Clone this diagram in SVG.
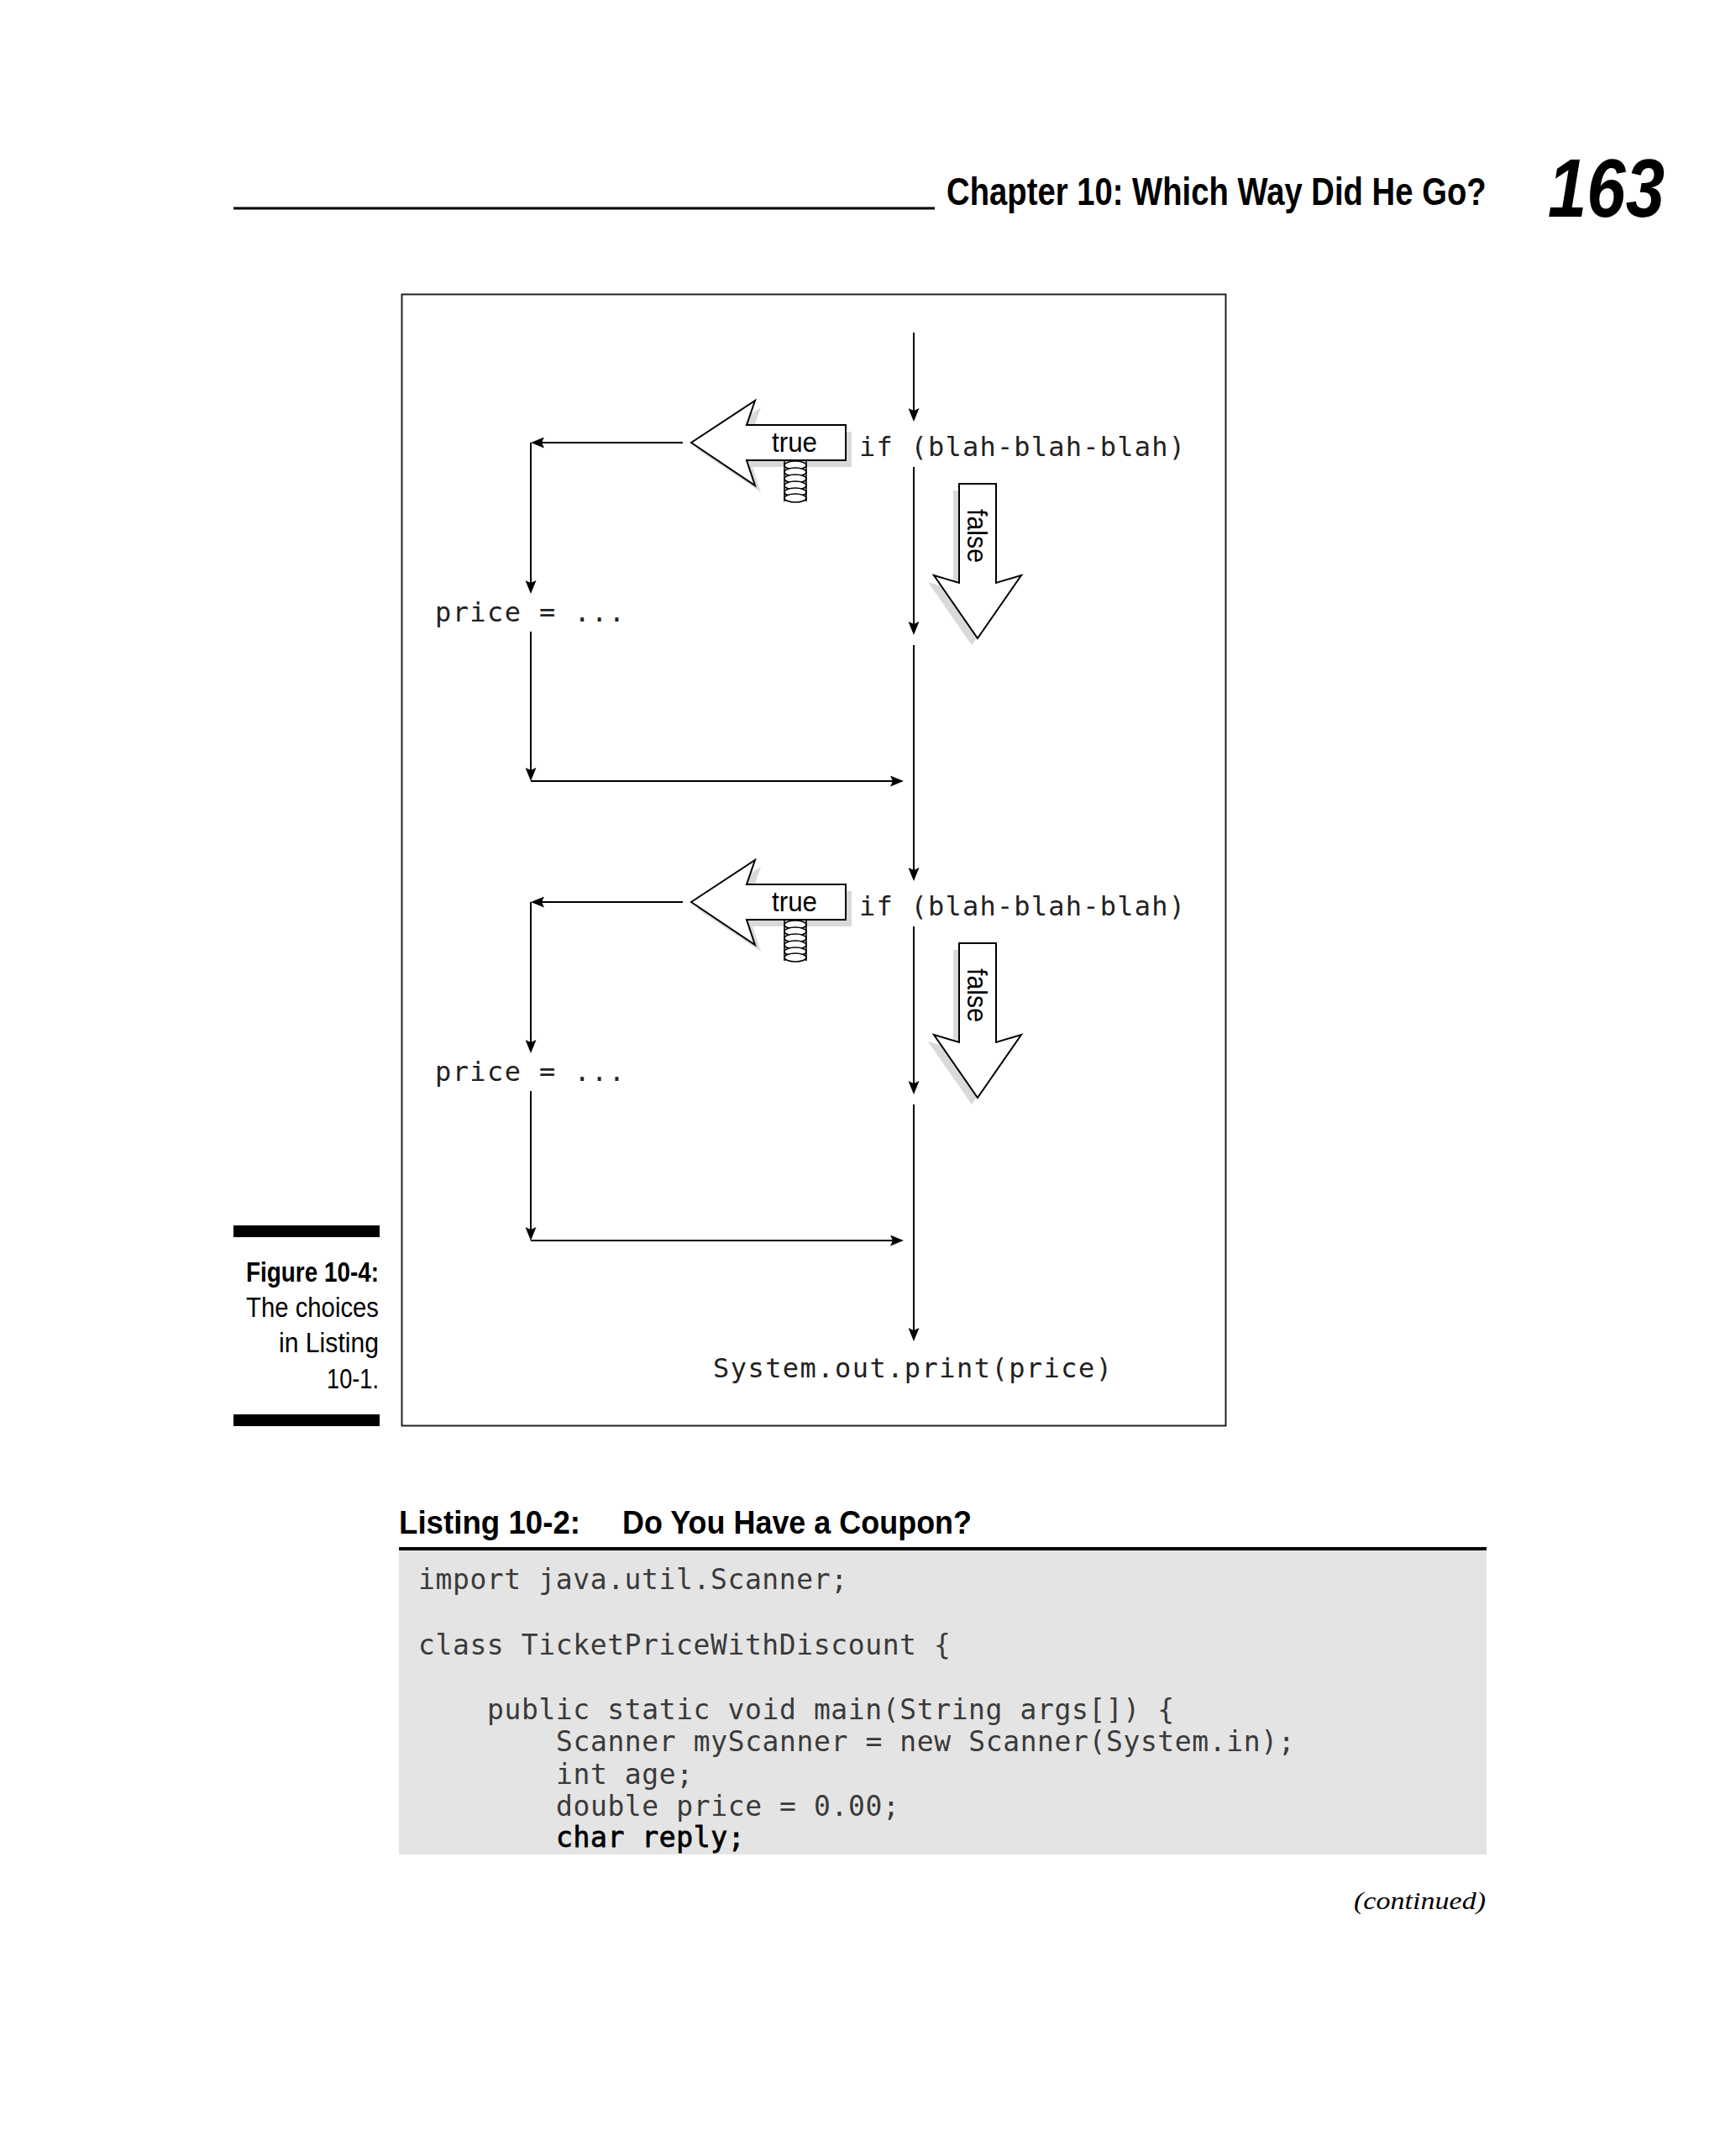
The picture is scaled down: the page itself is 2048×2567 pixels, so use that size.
<svg xmlns="http://www.w3.org/2000/svg" width="2048" height="2567" viewBox="0 0 2048 2567">
<style>
.mono{font-family:"DejaVu Sans Mono","Liberation Mono",monospace;font-size:32px;fill:#222}
.code{font-family:"DejaVu Sans Mono","Liberation Mono",monospace;font-size:33px;letter-spacing:0.6px;fill:#3a3a3a}
.lbl{font-family:"Liberation Sans","DejaVu Sans",sans-serif;font-size:33px;fill:#000}
.cap{font-family:"Liberation Sans","DejaVu Sans",sans-serif;font-size:33px;fill:#000}
.conn{stroke:#000;stroke-width:2;fill:none}
.big{fill:#fff;stroke:#000;stroke-width:2;stroke-linejoin:miter}
.shadow{fill:#d9d9d9;stroke:none}
.spr{fill:#fff;stroke:#000;stroke-width:1.6}
</style>
<defs>
<marker id="ah" markerUnits="userSpaceOnUse" viewBox="0 0 16 13" markerWidth="16" markerHeight="13" refX="14" refY="6.5" orient="auto">
<path d="M0,0 L16,6.5 L0,13 L3,6.5 z" fill="#000"/>
</marker>
<g id="trueArrow">
<polygon class="shadow" points="830,535 906,485 896,514 1014,514 1014,556 896,556 906,586"/>
<g>
<line class="spr" x1="934" y1="548" x2="934" y2="597"/>
<line class="spr" x1="960" y1="548" x2="960" y2="597"/>
<ellipse class="spr" cx="947" cy="554" rx="13" ry="5"/>
<ellipse class="spr" cx="947" cy="562" rx="13" ry="5"/>
<ellipse class="spr" cx="947" cy="570" rx="13" ry="5"/>
<ellipse class="spr" cx="947" cy="578" rx="13" ry="5"/>
<ellipse class="spr" cx="947" cy="586" rx="13" ry="5"/>
<ellipse class="spr" cx="947" cy="593" rx="13" ry="5"/>
</g>
<polygon class="big" points="823,527 899,477 889,506 1007,506 1007,548 889,548 899,578"/>
<text class="lbl" x="919" y="538" textLength="54" lengthAdjust="spacingAndGlyphs">true</text>
</g>
<g id="falseArrow">
<polygon class="shadow" points="1135,584 1179,584 1179,702 1209,693 1157,768 1105,693 1135,702"/>
<polygon class="big" points="1142,576 1186,576 1186,694 1216,685 1164,760 1112,685 1142,694"/>
<text class="lbl" transform="translate(1152,606) rotate(90)" textLength="64" lengthAdjust="spacingAndGlyphs">false</text>
</g>
</defs>

<!-- page header -->
<g id="header">
<rect x="278" y="246.5" width="835" height="3" fill="#000"/>
<text transform="translate(1127,244) scale(0.832,1)" font-family="'Liberation Sans','DejaVu Sans',sans-serif" font-weight="bold" font-size="46">Chapter 10: Which Way Did He Go?</text>
<text transform="translate(1843,258) scale(0.85,1)" font-family="'Liberation Sans','DejaVu Sans',sans-serif" font-weight="bold" font-style="italic" font-size="98">163</text>
</g>

<!-- figure frame -->
<rect id="frame" x="478.5" y="350.5" width="981" height="1347" fill="none" stroke="#222" stroke-width="2"/>

<!-- connectors -->
<g id="connectors">
<path class="conn" d="M1088,396 V500" marker-end="url(#ah)"/>
<path class="conn" d="M1088,556 V754" marker-end="url(#ah)"/>
<path class="conn" d="M1088,768 V1047" marker-end="url(#ah)"/>
<path class="conn" d="M1088,1103 V1301" marker-end="url(#ah)"/>
<path class="conn" d="M1088,1315 V1595" marker-end="url(#ah)"/>

<path class="conn" d="M813,527 H634" marker-end="url(#ah)"/>
<path class="conn" d="M632,527 V705" marker-end="url(#ah)"/>
<path class="conn" d="M632,752 V928" marker-end="url(#ah)"/>
<path class="conn" d="M632,930 H1074" marker-end="url(#ah)"/>

<path class="conn" d="M813,1074 H634" marker-end="url(#ah)"/>
<path class="conn" d="M632,1074 V1252" marker-end="url(#ah)"/>
<path class="conn" d="M632,1299 V1475" marker-end="url(#ah)"/>
<path class="conn" d="M632,1477 H1074" marker-end="url(#ah)"/>
</g>

<!-- nodes block 1 -->
<g id="if1"><text class="mono" x="1023" y="543" textLength="388" lengthAdjust="spacing">if (blah-blah-blah)</text></g>
<g id="true1"><use href="#trueArrow"/></g>
<g id="false1"><use href="#falseArrow"/></g>
<g id="price1"><text class="mono" x="518" y="740" textLength="226" lengthAdjust="spacing">price = ...</text></g>

<!-- nodes block 2 -->
<g id="if2"><text class="mono" x="1023" y="1090" textLength="388" lengthAdjust="spacing">if (blah-blah-blah)</text></g>
<g id="true2"><use href="#trueArrow" transform="translate(0,547)"/></g>
<g id="false2"><use href="#falseArrow" transform="translate(0,547)"/></g>
<g id="price2"><text class="mono" x="518" y="1287" textLength="226" lengthAdjust="spacing">price = ...</text></g>

<g id="print"><text class="mono" x="849" y="1640" textLength="475" lengthAdjust="spacing">System.out.print(price)</text></g>

<!-- caption -->
<g id="caption">
<rect x="278" y="1459" width="174" height="14" fill="#000"/>
<rect x="278" y="1684" width="174" height="14" fill="#000"/>
<text class="cap" x="293" y="1526" font-weight="bold" textLength="158" lengthAdjust="spacingAndGlyphs">Figure 10-4:</text>
<text class="cap" x="293" y="1568" textLength="158" lengthAdjust="spacingAndGlyphs">The choices</text>
<text class="cap" x="332" y="1610" textLength="119" lengthAdjust="spacingAndGlyphs">in Listing</text>
<text class="cap" x="389" y="1653" textLength="62" lengthAdjust="spacingAndGlyphs">10-1.</text>
</g>

<!-- listing -->
<g id="listing">
<text x="475" y="1826" font-family="'Liberation Sans','DejaVu Sans',sans-serif" font-weight="bold" font-size="38" textLength="216" lengthAdjust="spacingAndGlyphs">Listing 10-2:</text>
<text x="741" y="1826" font-family="'Liberation Sans','DejaVu Sans',sans-serif" font-weight="bold" font-size="38" textLength="416" lengthAdjust="spacingAndGlyphs">Do You Have a Coupon?</text>
<rect x="475" y="1846" width="1295" height="362" fill="#e4e4e4"/>
<rect x="475" y="1842" width="1295" height="4" fill="#000"/>
<text class="code" x="498" y="1892">import java.util.Scanner;</text>
<text class="code" x="498" y="1970">class TicketPriceWithDiscount {</text>
<text class="code" x="580" y="2047">public static void main(String args[]) {</text>
<text class="code" x="662" y="2085">Scanner myScanner = new Scanner(System.in);</text>
<text class="code" x="662" y="2124">int age;</text>
<text class="code" x="662" y="2162">double price = 0.00;</text>
<text class="code" x="662" y="2199" style="fill:#000;stroke:#000;stroke-width:0.8px">char reply;</text>
</g>

<text id="continued" x="1612" y="2273" font-family="'Liberation Serif','DejaVu Serif',serif" font-style="italic" font-size="30" textLength="157" lengthAdjust="spacingAndGlyphs">(continued)</text>
</svg>
